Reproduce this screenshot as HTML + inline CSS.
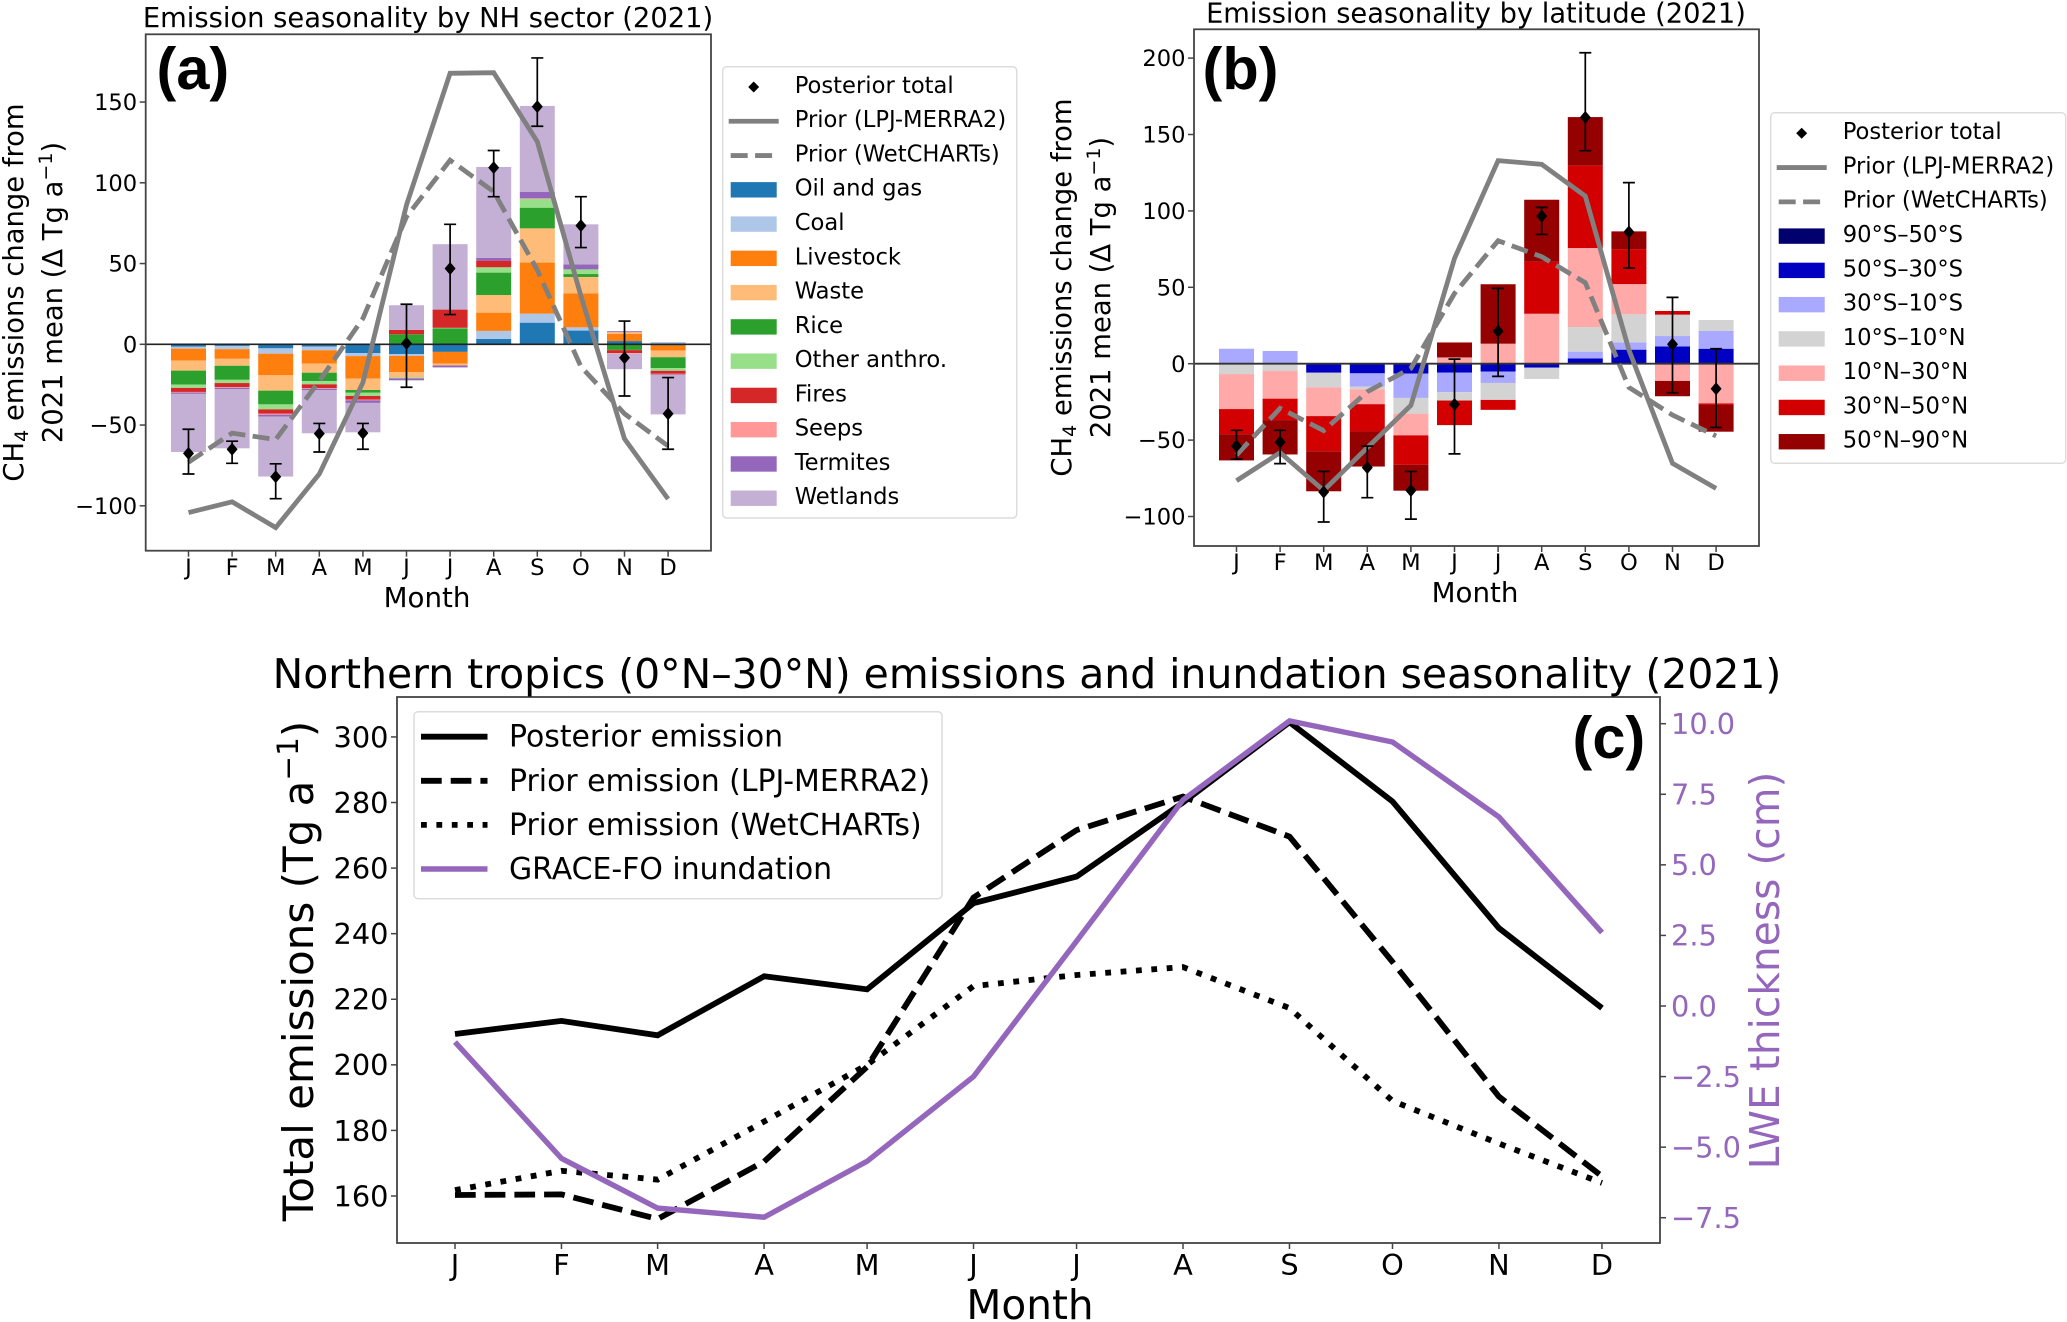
<!DOCTYPE html>
<html lang="en">
<head>
<meta charset="utf-8">
<title>Methane emission seasonality (2021)</title>
<style>
html,body{margin:0;padding:0;background:#fff;}
svg{display:block;}
text{font-family:"DejaVu Sans","Liberation Sans",sans-serif;fill:#000;}
.panel-letter{font-family:"Liberation Sans",sans-serif;font-weight:bold;font-size:59.5px;}
</style>
</head>
<body>
<svg id="fig" xmlns="http://www.w3.org/2000/svg" width="2067" height="1322" viewBox="0 0 2067 1322">
  <g id="panelA"></g>
  <g id="panelB"></g>
  <g id="panelC"></g>

  <text x="428" y="27" font-size="27.35" text-anchor="middle">Emission seasonality by NH sector (2021)</text>
  <text x="1476" y="22.5" font-size="27.3" text-anchor="middle">Emission seasonality by latitude (2021)</text>
  <text x="1027" y="688" font-size="40.9" text-anchor="middle">Northern tropics (0°N–30°N) emissions and inundation seasonality (2021)</text>

  <text class="panel-letter" x="156.5" y="89">(a)</text>
  <text class="panel-letter" x="1202.5" y="89">(b)</text>
  <text class="panel-letter" x="1572.5" y="758">(c)</text>

  <text x="427" y="607" font-size="27.7" text-anchor="middle">Month</text>
  <text x="1475" y="602" font-size="27.7" text-anchor="middle">Month</text>
  <text x="1030" y="1319" font-size="40.6" text-anchor="middle">Month</text>

  <g font-size="27.4" text-anchor="middle">
    <text transform="translate(23,292.5) rotate(-90)">CH<tspan font-size="19" dy="5">4</tspan><tspan dy="-5"> emissions change from</tspan></text>
    <text transform="translate(62,292.5) rotate(-90)">2021 mean (Δ Tg a<tspan font-size="19" dy="-10">−1</tspan><tspan dy="10">)</tspan></text>
  </g>
  <g font-size="27.4" text-anchor="middle">
    <text transform="translate(1071,287.5) rotate(-90)">CH<tspan font-size="19" dy="5">4</tspan><tspan dy="-5"> emissions change from</tspan></text>
    <text transform="translate(1110,287.5) rotate(-90)">2021 mean (Δ Tg a<tspan font-size="19" dy="-10">−1</tspan><tspan dy="10">)</tspan></text>
  </g>
  <text transform="translate(313,971) rotate(-90)" font-size="42" text-anchor="middle">Total emissions (Tg a<tspan font-size="29.5" dy="-15">−1</tspan><tspan dy="15">)</tspan></text>
  <text transform="translate(1779,970.5) rotate(-90)" font-size="40.8" text-anchor="middle" style="fill:#9467bd">LWE thickness (cm)</text>
</svg>

<script>
// ---------- shared category data ----------
const monthLabels = ['J','F','M','A','M','J','J','A','S','O','N','D'];
const monthStartDay = [0,31,59,90,120,151,181,212,243,273,304,334];

// ---------- panel (a): sector anomalies, Tg/a ----------
const sectorNames = ['Oil and gas','Coal','Livestock','Waste','Rice','Other anthro.','Fires','Seeps','Termites','Wetlands'];
const sectorColors = ['#1f77b4','#aec7e8','#ff7f0e','#ffbb78','#2ca02c','#98df8a','#d62728','#ff9896','#9467bd','#c5b0d5'];
const oilGas    = [-1.5,-1,-2.5,-1.4,-5.4,-6,-4.7,3.3,13.4,8.5,2,-0.7];
const coalMine  = [-1.2,-2,-3.3,-2.3,-1.9,-1.2,0,5,5.6,2,0,1.4];
const livestock = [-7.4,-6,-13.4,-8.3,-14,-10,-7.2,11.3,31.6,21.1,4.5,-3.2];
const waste     = [-6.2,-4.3,-9.5,-5.6,-7,-3.3,-1.2,10.9,21.2,10.1,1,-4.1];
const rice      = [-8.7,-8.7,-8.5,-5.2,-1.7,6.2,9.9,13.9,12.8,1.8,-3.5,-6.8];
const otherAnth = [-2,-2,-3.1,-2,-2,-0.6,0.3,3.3,5.4,2.9,-0.1,-1.6];
const fires     = [-2.5,-2.5,-2.7,-2.3,-2.3,2.7,11.3,4.1,0,0,-1.9,-1.9];
const seeps     = [-0.4,-0.4,-0.6,-0.4,-0.4,0,0,0,0.4,0,-0.4,-0.4];
const termites  = [-0.8,-0.8,-1.2,-0.8,-1.6,-1.2,-1.2,1.7,3.9,3.1,0.6,-0.3];
const wetlands  = [-36,-36.7,-37.1,-26.8,-18.2,15.3,40.5,56.3,53.3,24.8,-9.5,-24.4];
const sectorSeries = [oilGas,coalMine,livestock,waste,rice,otherAnth,fires,seeps,termites,wetlands];
const posteriorA = [-67.5,-65,-82,-55.3,-55,0.6,46.9,109.4,147.2,73.5,-8.3,-43];
const errHighA   = [-52.6,-60,-74,-49,-49,24.8,74.3,120,177.3,91.4,14.4,-20.6];
const errLowA    = [-80.3,-73.7,-95.6,-66.7,-65,-26.6,18.4,91.4,135,59.9,-32,-65];
const lpjA = [-104.2,-97.5,-113.5,-80.3,-23.7,86.3,167.8,168.2,125.5,30,-58.5,-95.8];
const wetA = [-73,-55,-59,-22.7,16,79,114,94.5,46,-13.8,-43,-63];
const yTicksA = [150,100,50,0,-50,-100];

// ---------- panel (b): latitude anomalies, Tg/a ----------
const latNames = ['90°S–50°S','50°S–30°S','30°S–10°S','10°S–10°N','10°N–30°N','30°N–50°N','50°N–90°N'];
const latColors = ['#00006e','#0000c2','#a9a9ff','#d3d3d3','#ffa9a9','#d20000','#950000'];
const lat90S50S = [0,0,0,0,0,0,0,0,0,0,0,0];
const lat50S30S = [0,0,-5.9,-6.3,-6.5,-5.9,-5.2,-2.6,3.5,9.2,11.3,9.8];
const lat30S10S = [9.8,8.3,0,-8.7,-15.9,-12.7,-7.4,0,4.4,4.8,6.8,11.6];
const lat10S10N = [-6.8,-4.8,-9.6,-1.7,-10.3,-5.5,-11.1,-7.4,16.1,18.3,14,7.2];
const lat10N30N = [-22.9,-18.1,-18.8,-9.8,-14.2,4.1,13.1,32.7,51.7,19.8,-11.3,-26];
const lat30N50N = [-16.4,-14,-23,-17.9,-19.2,-16.1,-6.5,34.1,53.9,22.9,2.4,-1];
const lat50N90N = [-17.2,-22.5,-26.2,-22.9,-17,9.8,38.9,40.5,31.8,11.6,-10,-17.5];
const latSeries = [lat90S50S,lat50S30S,lat30S10S,lat10S10N,lat10N30N,lat30N50N,lat50N90N];
const posteriorB = [-53.9,-51.3,-84,-68,-83,-26.6,21.2,96.6,161.2,86.2,12.7,-16.4];
const errHighB   = [-43.6,-43.6,-70.5,-53.9,-70.5,3,49.3,102.3,203.5,118.5,43.4,9.8];
const errLowB    = [-62.4,-65.4,-103.6,-87.7,-101.7,-59,-8.3,84.6,139.4,62.6,-19,-41.7];
const lpjB = [-76.6,-58.2,-83,-55,-27.3,68.9,132.9,130.5,109.7,9,-65.2,-81.6];
const wetB = [-59.8,-29.2,-43.8,-18.3,-3,46,80.5,70,53,-15.5,-33.6,-47.3];
const yTicksB = [200,150,100,50,0,-50,-100];

// ---------- panel (c): northern tropics ----------
const posteriorC = [209.4,213.4,209,227,223,249.3,257.4,280,304.5,280.3,241.7,217.3];
const lpjC       = [160.3,160.5,153,170.5,199.4,251,271.6,281.8,269.6,231.4,190.3,166];
const wetC       = [161.8,167.7,165,182.7,200,224,227.4,229.8,217.3,189,176,164];
const graceC     = [-1.28,-5.4,-7.16,-7.48,-5.5,-2.5,2.3,7.3,10.1,9.35,6.7,2.6];
const yTicksCLeft  = [300,280,260,240,220,200,180,160];
const yTicksCRight = [10,7.5,5,2.5,0,-2.5,-5,-7.5];
const legendNamesC = ['Posterior emission','Prior emission (LPJ-MERRA2)','Prior emission (WetCHARTs)','GRACE-FO inundation'];
const legendNamesLines = ['Posterior total','Prior (LPJ-MERRA2)','Prior (WetCHARTs)'];

// ---------- axis functions ----------
const xA = i => 188.5 + 43.6 * i;
const yA = v => 344.3 - 1.615 * v;
const xB = i => 1236.5 + 43.6 * i;
const yB = v => 363.7 - 1.528 * v;
const xC = day => 455 + 3.434 * day;
const yCL = v => 1196 - 3.279 * (v - 160);
const yCR = v => 1006 - 28.23 * v;

const NS = 'http://www.w3.org/2000/svg';
const SPINE = '#444444';
const GREY = '#808080';
const PURPLE = '#9467bd';

function mk(parent, tag, attrs, content) {
  const node = document.createElementNS(NS, tag);
  for (const k in attrs) node.setAttribute(k, attrs[k]);
  if (content !== undefined) node.textContent = content;
  parent.appendChild(node);
  return node;
}
function fmtTick(v, dec) {
  const s = Math.abs(v).toFixed(dec);
  return (v < 0 ? '−' : '') + s;
}
function linePath(xs, ys) {
  return xs.map((x, i) => (i ? 'L' : 'M') + x.toFixed(1) + ' ' + ys[i].toFixed(1)).join(' ');
}

function drawFrame(g, box, prefix) {
  const el = mk(g, 'rect', {x: box.l, y: box.t, width: box.r - box.l, height: box.b - box.t, fill: 'none', stroke: SPINE, 'stroke-width': 1.8});
  
  
}
function drawXTicks(g, xs, box, baseline, size, prefix) {
  monthLabels.forEach((m, i) => {
    const t = mk(g, 'line', {x1: xs[i], x2: xs[i], y1: box.b, y2: box.b + 6, stroke: SPINE, 'stroke-width': 1.5});
    
    
    const l = mk(g, 'text', {x: xs[i], y: baseline, 'font-size': size, 'text-anchor': 'middle'}, m);
    
    
  });
}
function drawYTicks(g, ticks, yf, box, size, prefix) {
  ticks.forEach(v => {
    const y = yf(v);
    const t = mk(g, 'line', {x1: box.l - 6, x2: box.l, y1: y, y2: y, stroke: SPINE, 'stroke-width': 1.5});
    
    
    const l = mk(g, 'text', {x: box.l - 8.5, y: y + size * 0.36, 'font-size': size, 'text-anchor': 'end'}, fmtTick(v, 0));
    
    
  });
}
function drawBars(g, series, colors, names, xf, yf, barW, prefix) {
  monthLabels.forEach((m, i) => {
    let pos = 0, neg = 0;
    series.forEach((s, k) => {
      const v = s[i];
      if (!v) return;
      const start = v > 0 ? pos : neg;
      const end = start + v;
      if (v > 0) pos = end; else neg = end;
      const top = Math.min(yf(start), yf(end));
      const bar = mk(g, 'rect', {x: xf(i) - barW / 2, y: top, width: barW, height: Math.abs(yf(end) - yf(start)), fill: colors[k]});
      
      
    });
  });
}
function drawPriors(g, xs, yf, lpj, wet, prefix) {
  const a = mk(g, 'path', {d: linePath(xs, lpj.map(yf)), fill: 'none', stroke: GREY, 'stroke-width': 4.8, 'stroke-linejoin': 'miter'});
  
  
  const b = mk(g, 'path', {d: linePath(xs, wet.map(yf)), fill: 'none', stroke: GREY, 'stroke-width': 4.8, 'stroke-dasharray': '17 7.4'});
  
  
}
function drawPosterior(g, xs, yf, post, hi, lo, prefix) {
  post.forEach((v, i) => {
    const x = xs[i];
    const bar = mk(g, 'path', {
      d: 'M' + x + ' ' + yf(hi[i]) + 'V' + yf(lo[i]) +
         'M' + (x - 6) + ' ' + yf(hi[i]) + 'H' + (x + 6) +
         'M' + (x - 6) + ' ' + yf(lo[i]) + 'H' + (x + 6),
      fill: 'none', stroke: '#000', 'stroke-width': 1.7});
    
    
    const y = yf(v);
    const d = mk(g, 'polygon', {points: [x, y - 6.5, x + 5.5, y, x, y + 6.5, x - 5.5, y].join(' '), fill: '#000'});
    
    
  });
}
function drawBarLegend(g, box, names, colors, prefix) {
  const frame = mk(g, 'rect', {x: box.l, y: box.t, width: box.r - box.l, height: box.b - box.t, rx: 4, fill: '#fff', stroke: '#dcdcdc', 'stroke-width': 1.5});
  
  
  const hL = box.l + 8, hR = box.l + 54, hC = (hL + hR) / 2, textX = box.l + 72;
  const rowY = i => box.first + 34.27 * i;
  const entries = legendNamesLines.concat(names);
  entries.forEach((name, i) => {
    const y = rowY(i);
    const t = mk(g, 'text', {x: textX, y: y + 5.9, 'font-size': 22.65}, name);
    
    
    let h;
    if (i === 0) {
      h = mk(g, 'polygon', {points: [hC, y - 5.5, hC + 5.5, y, hC, y + 5.5, hC - 5.5, y].join(' '), fill: '#000'});
    } else if (i === 1) {
      h = mk(g, 'line', {x1: hL - 2, x2: hR + 2, y1: y, y2: y, stroke: GREY, 'stroke-width': 4.8});
    } else if (i === 2) {
      h = mk(g, 'line', {x1: hL, x2: hR, y1: y, y2: y, stroke: GREY, 'stroke-width': 4.8, 'stroke-dasharray': '17 7.4'});
    } else {
      h = mk(g, 'rect', {x: hL, y: y - 7.7, width: hR - hL, height: 15.4, fill: colors[i - 3]});
    }
    
    
  });
}

// ---------- panel (a) ----------
(function () {
  const g = document.getElementById('panelA');
  const box = {l: 145.7, t: 34.3, r: 711, b: 550.7};
  const xs = monthLabels.map((m, i) => xA(i));
  drawBars(g, sectorSeries, sectorColors, sectorNames, xA, yA, 35, 'panel-a');
  const zero = mk(g, 'line', {x1: box.l, x2: box.r, y1: yA(0), y2: yA(0), stroke: '#222', 'stroke-width': 1.6});
  
  
  drawPriors(g, xs, yA, lpjA, wetA, 'panel-a');
  drawPosterior(g, xs, yA, posteriorA, errHighA, errLowA, 'panel-a');
  drawFrame(g, box, 'panel-a');
  drawXTicks(g, xs, box, 575, 22.6, 'panel-a');
  drawYTicks(g, yTicksA, yA, box, 22.6, 'panel-a');
  drawBarLegend(g, {l: 722.7, t: 66.7, r: 1016.7, b: 518, first: 87}, sectorNames, sectorColors, 'panel-a');
})();

// ---------- panel (b) ----------
(function () {
  const g = document.getElementById('panelB');
  const box = {l: 1194, t: 29.3, r: 1759, b: 546};
  const xs = monthLabels.map((m, i) => xB(i));
  drawBars(g, latSeries, latColors, latNames, xB, yB, 35, 'panel-b');
  const zero = mk(g, 'line', {x1: box.l, x2: box.r, y1: yB(0), y2: yB(0), stroke: '#333', 'stroke-width': 1.8});
  
  
  drawPriors(g, xs, yB, lpjB, wetB, 'panel-b');
  drawPosterior(g, xs, yB, posteriorB, errHighB, errLowB, 'panel-b');
  drawFrame(g, box, 'panel-b');
  drawXTicks(g, xs, box, 570, 22.6, 'panel-b');
  drawYTicks(g, yTicksB, yB, box, 22.6, 'panel-b');
  drawBarLegend(g, {l: 1770.7, t: 112.7, r: 2065.7, b: 463.3, first: 133.3}, latNames, latColors, 'panel-b');
})();

// ---------- panel (c) ----------
(function () {
  const g = document.getElementById('panelC');
  const box = {l: 397, t: 697, r: 1660, b: 1243};
  const xs = monthStartDay.map(xC);
  const styles = [
    {stroke: '#000', w: 5.8, dash: 'none', name: 'posterior-emission'},
    {stroke: '#000', w: 5.8, dash: '20.7 9', name: 'prior-lpj-emission'},
    {stroke: '#000', w: 5.8, dash: '5.8 9.6', name: 'prior-wetcharts-emission'},
    {stroke: PURPLE, w: 5.4, dash: 'none', name: 'grace-fo-inundation'}
  ];
  const paths = [posteriorC.map(yCL), lpjC.map(yCL), wetC.map(yCL), graceC.map(yCR)];
  paths.forEach((ys, k) => {
    const p = mk(g, 'path', {d: linePath(xs, ys), fill: 'none', stroke: styles[k].stroke, 'stroke-width': styles[k].w, 'stroke-dasharray': styles[k].dash});
    
    
  });
  drawFrame(g, box, 'panel-c');
  drawXTicks(g, xs, box, 1275, 28.8, 'panel-c');
  drawYTicks(g, yTicksCLeft, yCL, box, 28.8, 'panel-c');
  yTicksCRight.forEach(v => {
    const y = yCR(v);
    const t = mk(g, 'line', {x1: box.r, x2: box.r + 6, y1: y, y2: y, stroke: SPINE, 'stroke-width': 1.5});
    
    
    const l = mk(g, 'text', {x: 1671, y: y + 10.3, 'font-size': 28.8, style: 'fill:' + PURPLE}, fmtTick(v, 1));
    
    
  });
  const frame = mk(g, 'rect', {x: 414, y: 711.7, width: 528, height: 187, rx: 4, fill: '#fff', 'fill-opacity': 0.8, stroke: '#dcdcdc', 'stroke-width': 1.5});
  
  
  legendNamesC.forEach((name, i) => {
    const y = 736.7 + 44.1 * i;
    const h = mk(g, 'line', {x1: 421, x2: 487.5, y1: y, y2: y, stroke: styles[i].stroke, 'stroke-width': styles[i].w, 'stroke-dasharray': styles[i].dash});
    
    
    const t = mk(g, 'text', {x: 509, y: y + 10, 'font-size': 29.9}, name);
    
    
  });
})();
</script>
</body>
</html>
